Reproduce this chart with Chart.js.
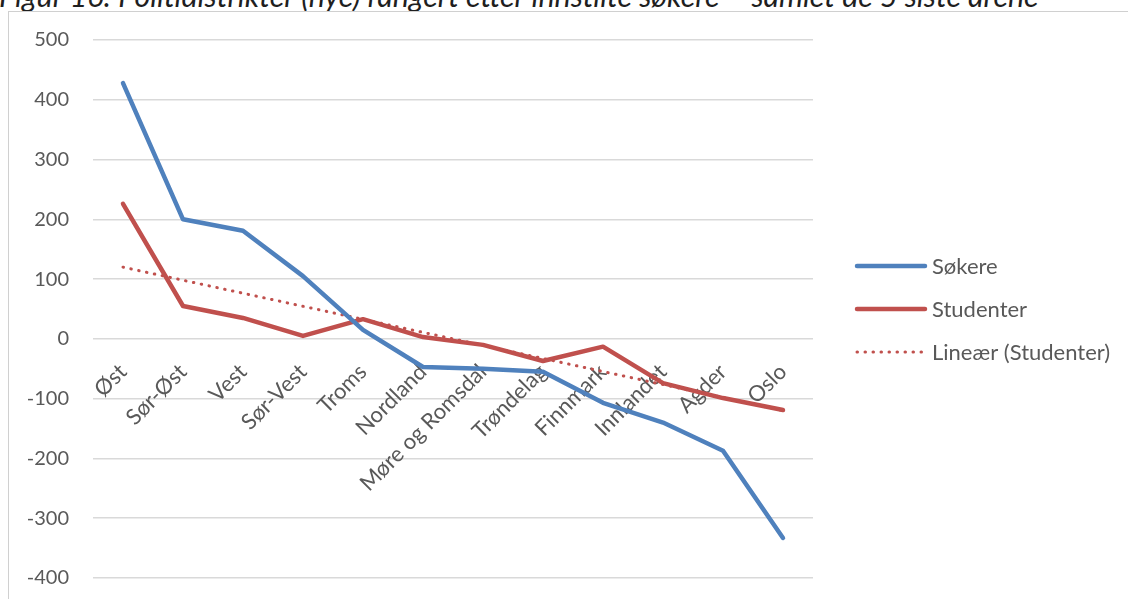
<!DOCTYPE html>
<html>
<head>
<meta charset="utf-8">
<script src="https://cdn.jsdelivr.net/npm/chart.js@4"></script>
<style>
  body { margin: 0; width: 1128px; height: 599px; overflow: hidden; background: #fff; position: relative; }
  #title {
    position: absolute; left: -1px; top: -20px; white-space: nowrap;
    font: italic 30.4px Lato, sans-serif; line-height: 30px; color: #1f1f1f;
  }
  #frame {
    position: absolute; left: 8px; top: 11px; width: 1300px; height: 700px;
    border-left: 1px solid #d0d0d0; border-top: 1px solid #d0d0d0;
  }
  #wrap { position: absolute; left: 9px; top: 12px; width: 1119px; height: 587px; }
</style>
</head>
<body>
<div id="title">Figur 16: Politidistrikter (nye) rangert etter innstilte søkere – samlet de 5 siste årene</div>
<div id="frame"></div>
<div id="wrap"><canvas id="chart"></canvas></div>
<script>
// Politidistrikter, sortert etter søkere
const districts = ['Øst', 'Sør-Øst', 'Vest', 'Sør-Vest', 'Troms', 'Nordland',
  'Møre og Romsdal', 'Trøndelag', 'Finnmark', 'Innlandet', 'Agder', 'Oslo'];
// Avvik søkere / studenter
const sokere = [428, 200, 181, 105, 15, -47, -50, -55, -107, -140, -187, -333];
const studenter = [226, 55, 35, 5, 33, 3, -10, -37, -13, -74, -99, -119];
// Trendlinje (bare endepunktene, lest av bildet)
const trendStudenter = [120, null, null, null, null, null, null, null, null, null, null, -120];
// Verdiakse
const yMin = -400, yMax = 500, yStep = 100;
const seriesNames = ['Søkere', 'Studenter', 'Lineær (Studenter)'];

const grey = '#595959';
const tickFont = { family: 'Lato', size: 20 };
const labelFont = { family: 'Lato', size: 22 };

// Forklaring til høyre for plottet, tegnet med seriens egen linjestil
const sideLegend = {
  id: 'sideLegend',
  afterDraw(chart) {
    const { ctx, chartArea } = chart;
    const x0 = chartArea.right + 44;
    const yc = (chartArea.top + chartArea.bottom) / 2;
    chart.data.datasets.forEach((ds, i) => {
      const y = yc + (i - 1) * 43;
      ctx.save();
      ctx.strokeStyle = ds.borderColor;
      ctx.lineWidth = ds.borderWidth;
      ctx.lineCap = 'round';
      ctx.setLineDash(ds.borderDash || []);
      ctx.beginPath();
      ctx.moveTo(x0, y);
      ctx.lineTo(x0 + 68, y);
      ctx.stroke();
      ctx.fillStyle = grey;
      ctx.font = '22px Lato';
      ctx.textBaseline = 'middle';
      ctx.fillText(ds.label, x0 + 75, y + 1);
      ctx.restore();
    });
  }
};

new Chart(document.getElementById('chart'), {
  type: 'line',
  data: {
    labels: districts,
    datasets: [
      {
        label: seriesNames[0],
        data: sokere,
        borderColor: '#4f81bd',
        borderWidth: 4.5,
        borderCapStyle: 'round',
        borderJoinStyle: 'round',
        pointRadius: 0,
        tension: 0
      },
      {
        label: seriesNames[1],
        data: studenter,
        borderColor: '#c0504d',
        borderWidth: 4.5,
        borderCapStyle: 'round',
        borderJoinStyle: 'round',
        pointRadius: 0,
        tension: 0
      },
      {
        label: seriesNames[2],
        data: trendStudenter,
        borderColor: '#c0504d',
        borderWidth: 3,
        borderDash: [0.5, 7.5],
        borderCapStyle: 'round',
        pointRadius: 0,
        spanGaps: true
      }
    ]
  },
  options: {
    responsive: true,
    maintainAspectRatio: false,
    animation: false,
    layout: { padding: { left: 18, top: 28, bottom: 21, right: 315 } },
    plugins: {
      tooltip: { enabled: false },
      legend: { display: false }
    },
    scales: {
      x: {
        position: { y: 0 },
        offset: true,
        grid: { display: false },
        border: { display: false },
        ticks: {
          autoSkip: false,
          minRotation: 45,
          maxRotation: 45,
          padding: 12,
          color: grey,
          font: labelFont
        },
        afterFit: (s) => { s.height = 0; }
      },
      y: {
        min: yMin,
        max: yMax,
        grid: { color: '#d9d9d9', lineWidth: 1.5, drawTicks: true, tickLength: 21, tickColor: 'rgba(0,0,0,0)' },
        border: { display: false },
        ticks: { stepSize: yStep, padding: 3, color: grey, font: tickFont },
        afterFit: (s) => { s.width = 66; }
      }
    }
  },
  plugins: [sideLegend]
});
</script>
</body>
</html>
